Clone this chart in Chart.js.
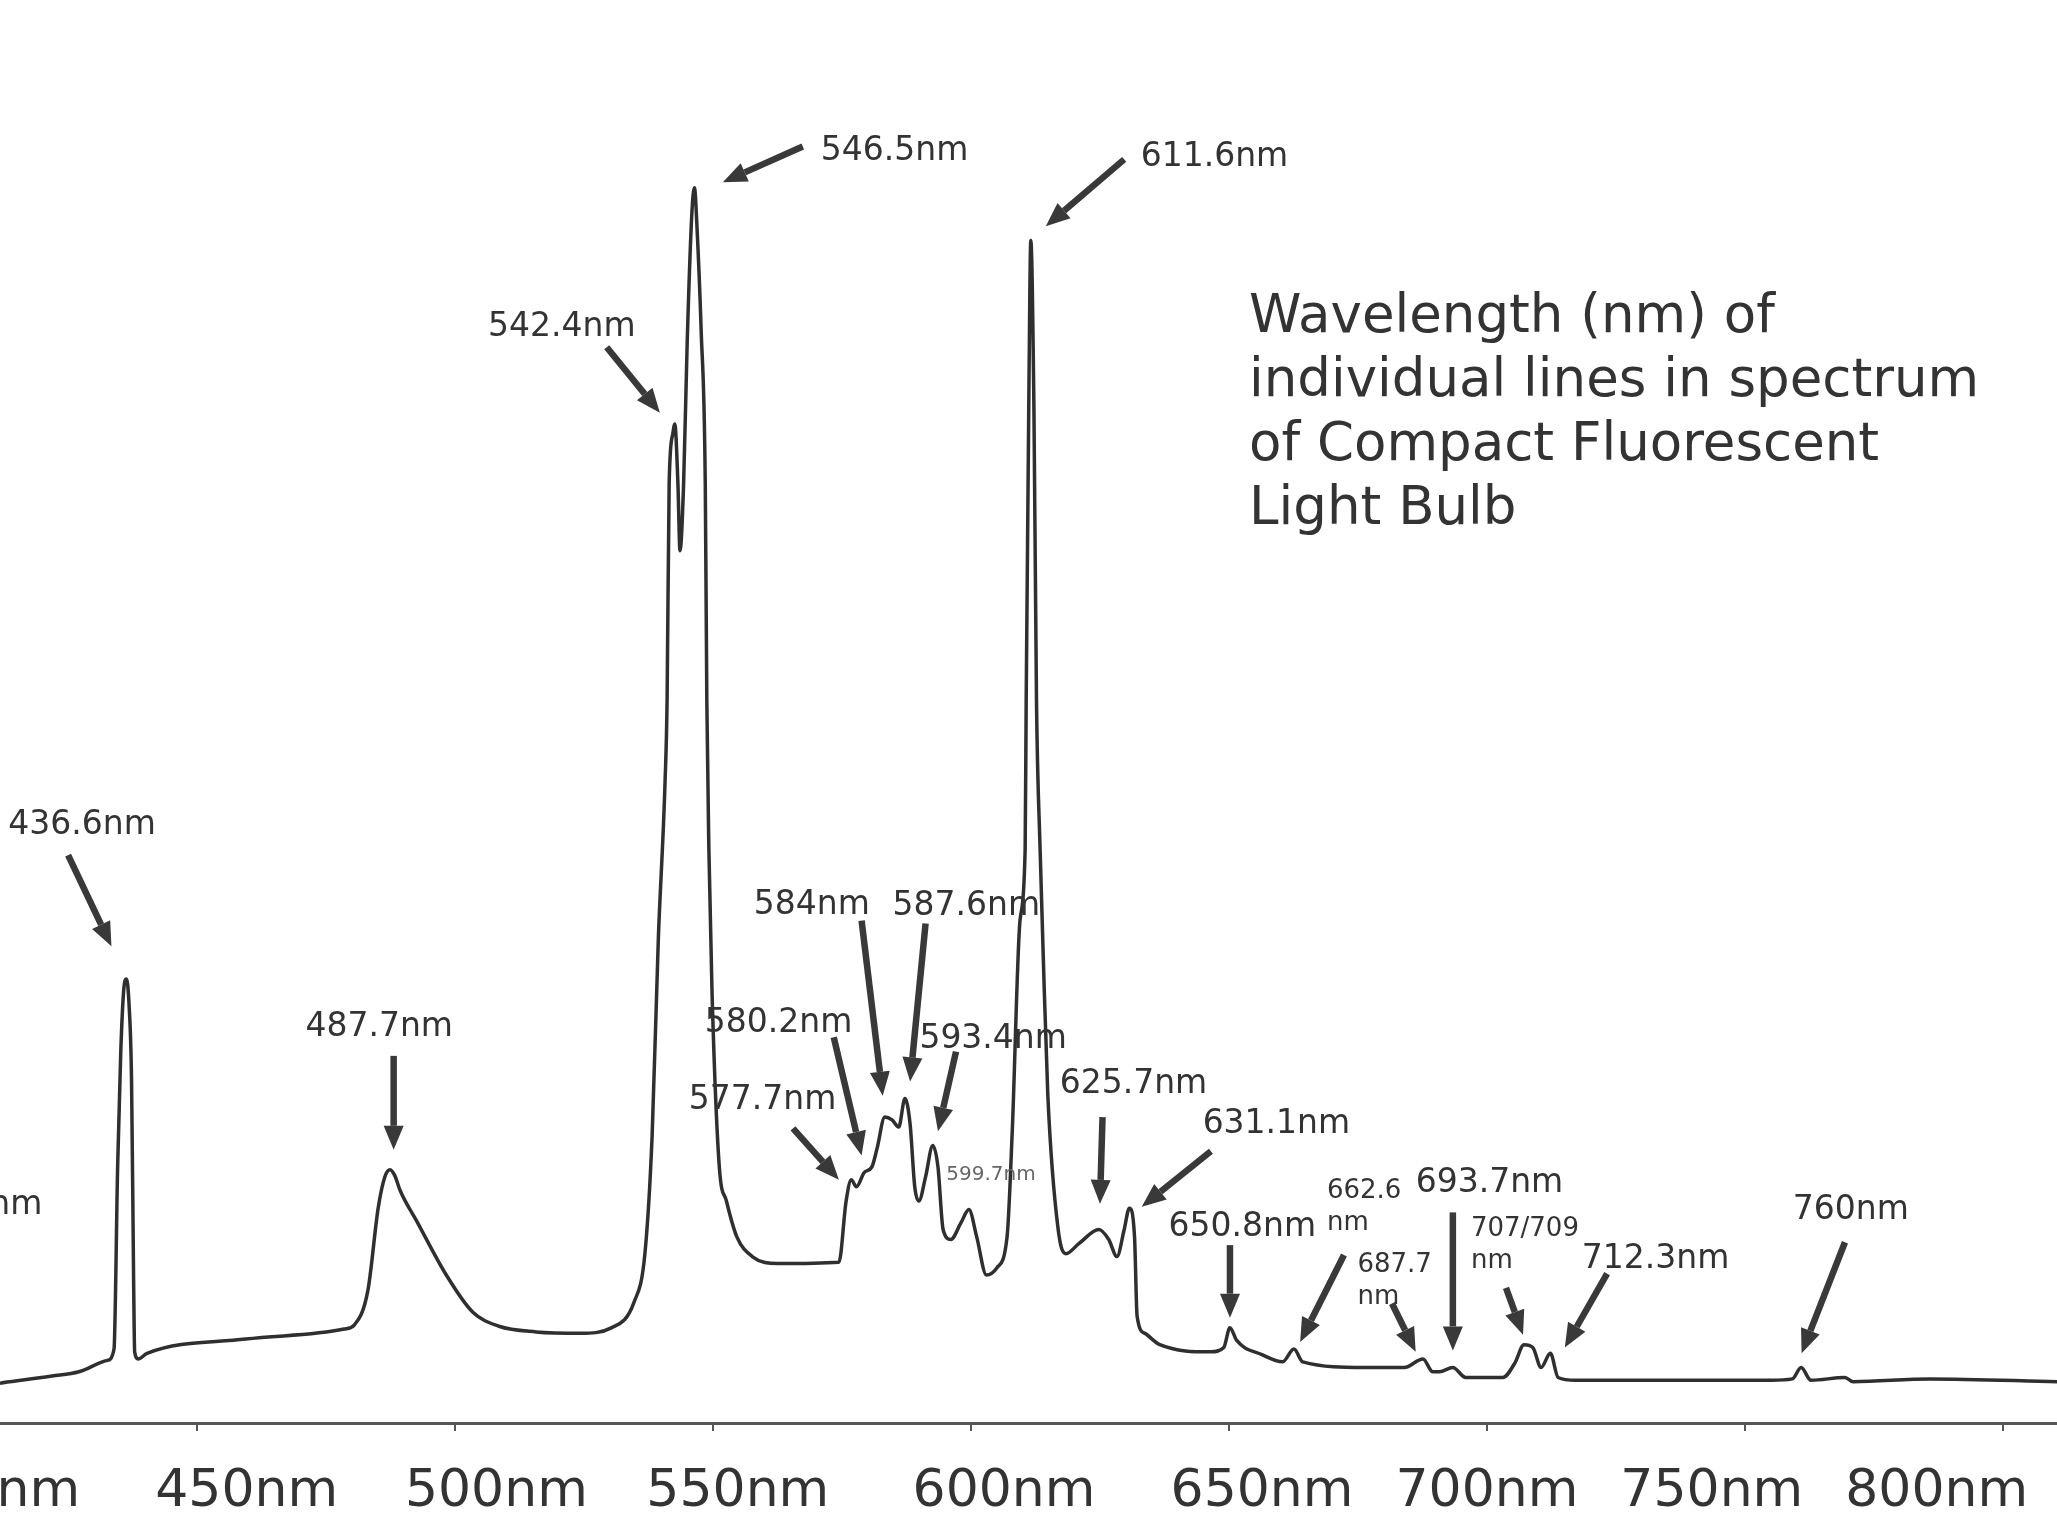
<!DOCTYPE html>
<html lang="en">
<head>
    <meta charset="UTF-8">
    <title>CFL spectrum</title>
    <script src="https://cdn.jsdelivr.net/npm/chart.js"></script>
    <style>
        html, body { margin: 0; padding: 0; background: #fff; }
        canvas { display: block; }
    </style>
</head>
<body>
    <canvas id="spectrumChart" width="2057" height="1517"></canvas>

    <script>
        // spectrum: wavelength (nm) and relative intensity (0-100)
        const wavelengths = [
            411.8, 421.9, 427.1, 432.6, 433.9, 434.6, 435.2, 435.8, 436.3, 436.8,
            437.3, 437.7, 437.9, 438.6, 440.3, 459.4, 478.5, 480.5, 483.1, 485.1,
            486.4, 487.4, 488.3, 489.4, 492.7, 498.3, 503.4, 508.5, 515.7, 524.2,
            530.4, 534.7, 536.8, 538.2, 539.4, 540.7, 541.1, 541.5, 542.2, 542.6,
            543.2, 543.6, 544.3, 545.0, 545.9, 546.4, 546.9, 547.7, 548.5, 548.8,
            549.2, 549.8, 551.2, 552.6, 554.6, 557.6, 562.5, 574.4, 575.8, 576.8,
            577.8, 579.3, 580.8, 581.8, 583.3, 584.7, 586.0, 587.2, 588.2, 589.1,
            589.9, 591.2, 592.6, 593.6, 594.6, 596.1, 598.1, 599.6, 601.1, 603.0,
            605.0, 607.0, 608.0, 609.5, 610.5, 610.7, 611.2, 611.6, 612.2, 612.7,
            613.4, 614.0, 614.9, 616.9, 618.4, 620.9, 624.8, 626.7, 628.3, 629.7,
            630.7, 631.7, 632.2, 633.7, 636.6, 646.5, 649.0, 650.2, 651.5, 656.4,
            660.4, 662.6, 664.3, 676.2, 684.0, 687.6, 689.5, 690.8, 693.4, 695.9,
            703.1, 705.4, 707.2, 708.9, 710.5, 712.3, 713.8, 717.2, 755.1, 759.2,
            760.9, 762.8, 769.4, 771.0, 785.8, 810.5
        ];
        const intensity = [
            2.8, 3.3, 3.6, 4.4, 5.2, 18, 26, 30.5, 31.2, 29.5,
            24, 10, 5.0, 4.5, 4.9, 5.9, 6.6, 6.9, 9.3, 15.1,
            17.3, 17.8, 17.4, 16.3, 14.1, 10.4, 7.8, 6.8, 6.4, 6.3,
            6.7, 8.5, 11.9, 20.2, 34, 45, 50.8, 66, 69.5, 70.2,
            66, 61.3, 66, 76, 85, 86.8, 84, 76.8, 66, 50.8,
            40.3, 30.4, 18.1, 15.6, 13.1, 11.7, 11.2, 11.3, 15.6, 17.1,
            16.6, 17.6, 18.0, 19.3, 21.5, 21.3, 20.8, 22.8, 21.0, 16.6,
            15.6, 17.3, 19.5, 18.0, 13.6, 12.9, 14.1, 15.0, 13.1, 10.4,
            10.9, 13.1, 20.5, 35.3, 40.3, 50.7, 71.4, 83.1, 71.4, 50.7,
            40.3, 32.9, 23.0, 13.6, 11.9, 12.6, 13.6, 12.9, 11.7, 13.6,
            15.1, 13.1, 7.5, 6.3, 5.5, 5.0, 5.3, 6.7, 5.8, 4.8,
            4.3, 5.2, 4.3, 3.9, 3.9, 4.5, 3.6, 3.6, 3.9, 3.2,
            3.2, 4.2, 5.5, 5.3, 3.9, 4.9, 3.2, 3.0, 3.0, 3.1,
            3.9, 3.0, 3.2, 2.9, 3.1, 2.9
        ];
        const tickValues = [400, 450, 500, 550, 600, 650, 700, 750, 800];

        // line labels: text, left edge (nm), middle height (intensity)
        const labelText = [
            '404.7nm', '436.6nm', '487.7nm', '542.4nm', '546.5nm', '611.6nm',
            '584nm', '587.6nm', '580.2nm', '593.4nm', '577.7nm', '599.7nm',
            '625.7nm', '631.1nm', '650.8nm', '662.6\nnm', '693.7nm', '687.7\nnm',
            '707/709\nnm', '712.3nm', '760nm'
        ];
        const labelNm = [
            391.4, 413.4, 471.0, 506.4, 570.9, 632.9,
            557.9, 584.8, 548.4, 590.0, 545.3, 595.2,
            617.2, 644.9, 638.3, 669.0, 686.2, 674.9,
            696.9, 718.4, 759.3
        ];
        const labelLevel = [
            15.5, 42.2, 28.0, 77.2, 89.6, 89.2,
            36.6, 36.5, 28.3, 27.2, 22.9, 17.6,
            24.0, 21.2, 14.0, 16.5, 17.1, 11.3,
            13.8, 11.7, 15.2
        ];

        // arrows: tail -> head, in nm / intensity
        const arrowFromNm    = [425.0, 488.1, 529.4, 567.4, 629.7, 578.8, 591.2, 573.4, 597.1, 565.5, 625.5, 646.5, 650.2, 672.3, 693.4, 681.6, 703.7, 723.3, 769.4];
        const arrowFromLevel = [39.9, 25.8, 75.6, 89.7, 88.8, 35.3, 35.1, 27.1, 26.1, 20.7, 21.5, 19.1, 12.5, 11.8, 14.8, 8.4, 9.5, 10.5, 12.7];
        const arrowToNm      = [433.4, 488.1, 539.7, 551.9, 614.5, 582.9, 588.2, 578.8, 593.6, 574.4, 625.0, 633.1, 650.2, 663.8, 693.4, 686.2, 707.0, 715.1, 761.0];
        const arrowToLevel   = [33.5, 19.2, 71.0, 87.2, 84.1, 23.0, 24.0, 18.8, 20.5, 17.1, 15.4, 15.2, 7.4, 5.7, 5.1, 5.0, 6.2, 5.3, 4.9];

        const titleLines = [
            'Wavelength (nm) of',
            'individual lines in spectrum',
            'of Compact Fluorescent',
            'Light Bulb'
        ];
        const titleNm = 653.9;
        const titleLevel = 78.0;

        const inkColor = '#333';
        // the printed tick labels sit a little off their tick marks in the scan
        const tickLabelShift = [6, 6, 5, 3, 4, 4, 0, -4, -8];

        function labelSize(text) {
            if (text === '599.7nm') return 20;
            if (text.includes('\n')) return 26;
            return 33;
        }

        function tickLabel(value, index) {
            const n = tickLabelShift[index] || 0;
            const pad = ' '.repeat(Math.abs(n));
            return n > 0 ? pad + value + 'nm' : value + 'nm' + pad;
        }

        const annotations = {
            id: 'annotations',
            afterDatasetsDraw(chart) {
                const ctx = chart.ctx;
                const x = chart.scales.x;
                const y = chart.scales.y;
                ctx.save();

                // arrows
                ctx.fillStyle = '#393939';
                ctx.strokeStyle = '#393939';
                ctx.lineWidth = 6.5;
                ctx.lineCap = 'butt';
                arrowFromNm.forEach((_, i) => {
                    const x0 = x.getPixelForValue(arrowFromNm[i]);
                    const y0 = y.getPixelForValue(arrowFromLevel[i]);
                    const x1 = x.getPixelForValue(arrowToNm[i]);
                    const y1 = y.getPixelForValue(arrowToLevel[i]);
                    const ang = Math.atan2(y1 - y0, x1 - x0);
                    const head = 24, half = 10;
                    const bx = x1 - Math.cos(ang) * head;
                    const by = y1 - Math.sin(ang) * head;
                    ctx.beginPath();
                    ctx.moveTo(x0, y0);
                    ctx.lineTo(bx, by);
                    ctx.stroke();
                    ctx.beginPath();
                    ctx.moveTo(x1, y1);
                    ctx.lineTo(bx + Math.sin(ang) * half, by - Math.cos(ang) * half);
                    ctx.lineTo(bx - Math.sin(ang) * half, by + Math.cos(ang) * half);
                    ctx.closePath();
                    ctx.fill();
                });

                // wavelength labels
                ctx.textAlign = 'left';
                ctx.textBaseline = 'alphabetic';
                labelText.forEach((text, i) => {
                    const size = labelSize(text);
                    ctx.font = size + 'px "DejaVu Sans"';
                    ctx.fillStyle = text === '599.7nm' ? '#666' : inkColor;
                    const px = x.getPixelForValue(labelNm[i]);
                    const py = y.getPixelForValue(labelLevel[i]);
                    text.split('\n').forEach((line, j) => {
                        ctx.fillText(line, px, py + size * 0.36 + j * size * 1.25);
                    });
                });

                // title block
                ctx.font = '53px "DejaVu Sans"';
                ctx.fillStyle = inkColor;
                const tx = x.getPixelForValue(titleNm);
                const ty = y.getPixelForValue(titleLevel);
                titleLines.forEach((line, j) => {
                    ctx.fillText(line, tx, ty + 53 * 0.36 + j * 64);
                });

                ctx.restore();
            }
        };

        new Chart(document.getElementById('spectrumChart'), {
            type: 'line',
            data: {
                datasets: [{
                    label: 'CFL spectrum',
                    data: wavelengths.map((w, i) => ({ x: w, y: intensity[i] })),
                    borderColor: '#2f2f2f',
                    borderWidth: 3.5,
                    pointRadius: 0,
                    cubicInterpolationMode: 'monotone',
                    fill: false
                }]
            },
            options: {
                responsive: false,
                animation: false,
                layout: { padding: 0 },
                plugins: {
                    legend: { display: false },
                    tooltip: { enabled: false }
                },
                scales: {
                    x: {
                        type: 'linear',
                        min: 411.8,
                        max: 810.5,
                        afterBuildTicks: scale => {
                            scale.ticks = tickValues.map(v => ({ value: v }));
                        },
                        afterFit: scale => {
                            scale.paddingLeft = 0;
                            scale.paddingRight = 0;
                            scale.height = 94;
                        },
                        ticks: {
                            autoSkip: false,
                            maxRotation: 0,
                            padding: 30,
                            color: inkColor,
                            font: { family: 'DejaVu Sans', size: 52 },
                            callback: tickLabel
                        },
                        grid: {
                            drawOnChartArea: false,
                            tickLength: 8,
                            color: '#555',
                            lineWidth: 2
                        },
                        border: { color: '#555', width: 3 }
                    },
                    y: {
                        display: false,
                        min: 0,
                        max: 100
                    }
                }
            },
            plugins: [annotations]
        });
    </script>
</body>
</html>
